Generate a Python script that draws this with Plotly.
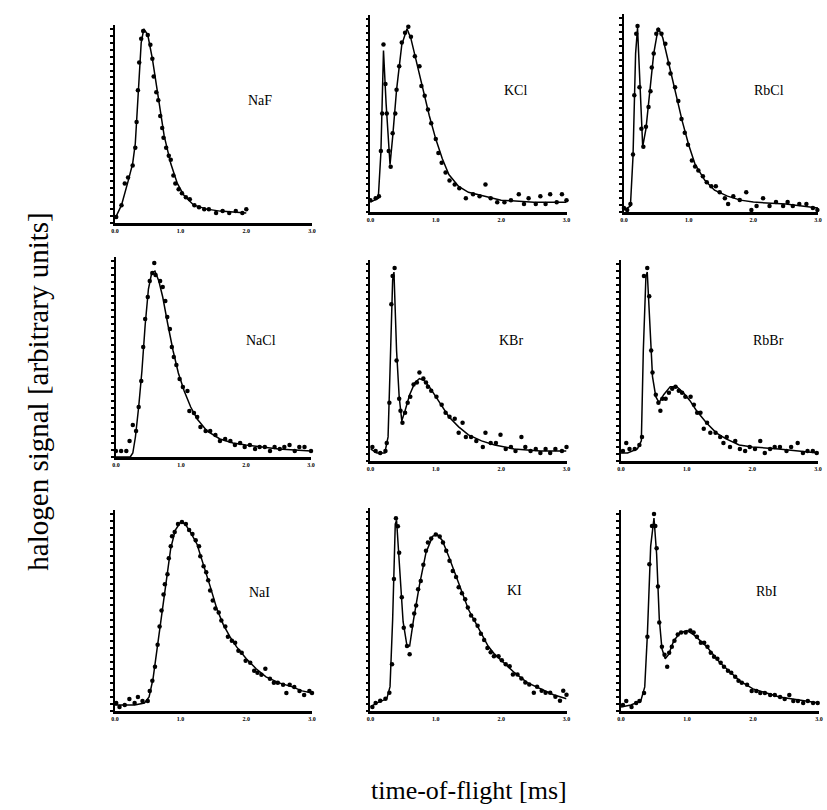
import plotly.graph_objects as go

# ---------------- data (time in ms, signal normalised to axis height) ----------------
naf_t = [0.02,0.10,0.15,0.20,0.27,0.31,0.33,0.35,0.37,0.40,0.43,0.50,0.54,0.57,0.59,0.63,0.66,0.69,0.72,0.74,0.78,0.82,0.85,0.89,0.92,0.97,1.02,1.08,1.14,1.21,1.28,1.36,1.43,1.54,1.64,1.74,1.84,1.94,2.00]
naf_y = [0.03,0.09,0.20,0.23,0.29,0.38,0.51,0.67,0.81,0.93,0.97,0.95,0.90,0.83,0.74,0.66,0.62,0.54,0.48,0.43,0.38,0.34,0.32,0.24,0.20,0.17,0.15,0.13,0.12,0.09,0.08,0.07,0.07,0.05,0.06,0.05,0.06,0.05,0.07]
naf_fit_t = [0.00,0.10,0.20,0.27,0.31,0.35,0.40,0.44,0.50,0.57,0.65,0.75,0.85,0.95,1.05,1.20,1.40,1.60,2.00]
naf_fit_y = [0.02,0.09,0.21,0.30,0.40,0.65,0.91,0.98,0.95,0.83,0.65,0.44,0.30,0.20,0.14,0.09,0.07,0.06,0.05]

kcl_t = [0.00,0.08,0.13,0.16,0.18,0.20,0.23,0.25,0.28,0.31,0.34,0.38,0.40,0.44,0.48,0.53,0.58,0.62,0.68,0.75,0.78,0.83,0.88,0.93,1.00,1.04,1.09,1.15,1.21,1.29,1.36,1.46,1.57,1.67,1.76,1.84,1.94,2.05,2.15,2.27,2.35,2.42,2.53,2.60,2.68,2.75,2.85,2.93,3.00]
kcl_y = [0.06,0.07,0.08,0.31,0.50,0.85,0.65,0.50,0.31,0.23,0.40,0.50,0.62,0.74,0.86,0.91,0.94,0.89,0.79,0.74,0.64,0.59,0.52,0.45,0.37,0.30,0.25,0.20,0.16,0.14,0.12,0.07,0.09,0.08,0.14,0.07,0.05,0.05,0.06,0.09,0.04,0.07,0.04,0.08,0.04,0.09,0.05,0.09,0.06]
kcl_fit_t = [0.00,0.12,0.16,0.20,0.24,0.30,0.34,0.40,0.48,0.56,0.62,0.70,0.80,0.90,1.00,1.10,1.20,1.35,1.50,1.75,2.00,2.50,3.00]
kcl_fit_y = [0.05,0.07,0.30,0.82,0.55,0.24,0.38,0.62,0.85,0.93,0.88,0.77,0.62,0.49,0.37,0.27,0.19,0.13,0.10,0.08,0.06,0.05,0.05]

rbcl_t = [0.00,0.05,0.10,0.14,0.16,0.19,0.21,0.24,0.27,0.30,0.34,0.38,0.41,0.43,0.46,0.50,0.53,0.58,0.64,0.69,0.72,0.79,0.84,0.89,0.94,0.99,1.05,1.10,1.15,1.22,1.28,1.35,1.42,1.48,1.56,1.61,1.69,1.79,1.89,1.97,2.05,2.15,2.25,2.35,2.46,2.53,2.61,2.71,2.82,2.92,2.99]
rbcl_y = [0.02,0.01,0.04,0.29,0.59,0.90,0.94,0.63,0.42,0.33,0.43,0.53,0.61,0.73,0.80,0.90,0.92,0.90,0.85,0.75,0.70,0.63,0.56,0.47,0.40,0.34,0.26,0.23,0.21,0.18,0.15,0.13,0.13,0.10,0.07,0.04,0.08,0.06,0.10,0.01,0.03,0.07,0.03,0.05,0.03,0.05,0.03,0.04,0.04,0.02,0.01]
rbcl_fit_t = [0.00,0.10,0.14,0.18,0.21,0.25,0.29,0.34,0.40,0.46,0.53,0.60,0.70,0.80,0.90,1.00,1.10,1.25,1.40,1.60,1.80,2.00,2.50,3.00]
rbcl_fit_y = [0.01,0.03,0.28,0.80,0.93,0.58,0.33,0.42,0.60,0.80,0.93,0.88,0.74,0.60,0.46,0.34,0.24,0.16,0.11,0.08,0.06,0.05,0.04,0.02]

nacl_t = [0.00,0.08,0.16,0.21,0.26,0.31,0.35,0.39,0.42,0.45,0.49,0.52,0.56,0.59,0.61,0.68,0.72,0.76,0.79,0.83,0.86,0.89,0.93,0.98,1.03,1.10,1.13,1.20,1.25,1.30,1.38,1.45,1.53,1.60,1.68,1.76,1.83,1.91,1.98,2.06,2.14,2.21,2.29,2.37,2.44,2.52,2.59,2.67,2.75,2.82,2.90,3.00]
nacl_y = [0.03,0.03,0.03,0.08,0.16,0.13,0.25,0.38,0.55,0.69,0.80,0.88,0.92,0.97,0.91,0.88,0.85,0.78,0.70,0.64,0.55,0.50,0.46,0.39,0.35,0.33,0.23,0.22,0.20,0.15,0.13,0.13,0.11,0.08,0.09,0.08,0.06,0.07,0.05,0.06,0.04,0.05,0.05,0.03,0.05,0.04,0.05,0.06,0.03,0.05,0.05,0.03]
nacl_fit_t = [0.00,0.22,0.26,0.30,0.35,0.40,0.45,0.50,0.55,0.60,0.66,0.72,0.80,0.88,0.96,1.05,1.15,1.25,1.40,1.60,1.80,2.00,2.50,3.00]
nacl_fit_y = [0.00,0.00,0.02,0.10,0.25,0.43,0.66,0.84,0.92,0.93,0.88,0.80,0.66,0.53,0.42,0.33,0.25,0.19,0.13,0.09,0.07,0.06,0.04,0.03]

kbr_t = [0.03,0.08,0.15,0.23,0.25,0.29,0.32,0.34,0.37,0.40,0.44,0.46,0.49,0.53,0.57,0.61,0.66,0.71,0.75,0.81,0.85,0.88,0.93,1.01,1.09,1.15,1.21,1.29,1.35,1.41,1.46,1.54,1.62,1.72,1.76,1.84,1.92,1.99,2.07,2.15,2.22,2.31,2.37,2.45,2.53,2.60,2.68,2.75,2.83,2.93,3.00]
kbr_y = [0.07,0.05,0.04,0.05,0.09,0.29,0.78,0.92,0.96,0.50,0.31,0.25,0.19,0.24,0.29,0.32,0.38,0.39,0.44,0.41,0.39,0.37,0.35,0.32,0.28,0.24,0.22,0.21,0.14,0.19,0.12,0.12,0.10,0.07,0.14,0.09,0.09,0.13,0.06,0.07,0.05,0.12,0.07,0.05,0.06,0.04,0.06,0.04,0.06,0.05,0.07]
kbr_fit_t = [0.00,0.10,0.22,0.27,0.30,0.34,0.36,0.40,0.44,0.48,0.53,0.60,0.68,0.75,0.82,0.90,1.00,1.10,1.20,1.35,1.50,1.70,1.90,2.20,2.60,3.00]
kbr_fit_y = [0.06,0.04,0.04,0.12,0.45,0.90,0.94,0.55,0.32,0.20,0.25,0.33,0.39,0.41,0.40,0.37,0.32,0.27,0.22,0.17,0.13,0.10,0.08,0.06,0.05,0.05]

rbbr_t = [0.03,0.08,0.13,0.21,0.28,0.32,0.35,0.40,0.43,0.46,0.48,0.53,0.57,0.60,0.63,0.68,0.73,0.78,0.83,0.88,0.93,0.98,1.06,1.11,1.16,1.21,1.26,1.31,1.36,1.44,1.51,1.56,1.61,1.66,1.74,1.81,1.89,1.96,2.04,2.12,2.19,2.27,2.34,2.42,2.52,2.59,2.69,2.77,2.84,2.92,2.98]
rbbr_y = [0.05,0.09,0.06,0.06,0.08,0.12,0.92,0.96,0.82,0.55,0.44,0.33,0.29,0.25,0.31,0.31,0.34,0.36,0.37,0.35,0.34,0.32,0.32,0.28,0.24,0.24,0.16,0.19,0.14,0.14,0.12,0.09,0.12,0.07,0.10,0.06,0.05,0.07,0.06,0.10,0.04,0.06,0.07,0.07,0.05,0.07,0.09,0.04,0.05,0.05,0.04]
rbbr_fit_t = [0.00,0.10,0.25,0.31,0.34,0.38,0.40,0.44,0.48,0.53,0.58,0.65,0.75,0.85,0.95,1.05,1.15,1.30,1.45,1.60,1.80,2.00,2.40,3.00]
rbbr_fit_y = [0.04,0.04,0.06,0.10,0.55,0.92,0.94,0.68,0.42,0.32,0.29,0.33,0.37,0.37,0.34,0.30,0.25,0.19,0.14,0.11,0.08,0.07,0.06,0.04]

nai_t = [0.02,0.07,0.15,0.22,0.30,0.35,0.42,0.50,0.53,0.57,0.61,0.65,0.68,0.71,0.74,0.76,0.80,0.82,0.85,0.87,0.91,0.96,1.02,1.08,1.13,1.18,1.23,1.28,1.30,1.35,1.39,1.42,1.45,1.49,1.53,1.58,1.62,1.68,1.72,1.78,1.83,1.88,1.93,1.99,2.06,2.12,2.17,2.23,2.29,2.36,2.42,2.48,2.56,2.61,2.66,2.73,2.81,2.88,2.96,3.00]
nai_y = [0.04,0.02,0.03,0.06,0.04,0.07,0.05,0.05,0.10,0.15,0.22,0.33,0.42,0.50,0.58,0.63,0.68,0.76,0.82,0.87,0.89,0.93,0.94,0.93,0.90,0.88,0.85,0.82,0.77,0.72,0.69,0.65,0.60,0.55,0.51,0.49,0.45,0.42,0.37,0.35,0.34,0.30,0.29,0.25,0.24,0.20,0.19,0.18,0.21,0.16,0.14,0.14,0.13,0.09,0.13,0.12,0.10,0.08,0.10,0.09]
nai_fit_t = [0.00,0.15,0.30,0.45,0.52,0.58,0.65,0.72,0.78,0.85,0.92,1.00,1.07,1.15,1.25,1.35,1.45,1.55,1.65,1.75,1.85,2.00,2.15,2.30,2.50,2.70,2.85,3.00]
nai_fit_y = [0.03,0.03,0.03,0.04,0.07,0.16,0.33,0.52,0.66,0.81,0.90,0.94,0.93,0.89,0.83,0.73,0.62,0.51,0.43,0.37,0.32,0.26,0.21,0.17,0.14,0.12,0.10,0.09]

ki_t = [0.03,0.08,0.15,0.23,0.29,0.33,0.36,0.39,0.42,0.44,0.48,0.51,0.56,0.60,0.63,0.67,0.70,0.73,0.77,0.81,0.85,0.88,0.93,1.00,1.06,1.11,1.16,1.21,1.26,1.31,1.35,1.40,1.45,1.49,1.54,1.59,1.64,1.69,1.74,1.79,1.84,1.89,1.96,2.01,2.07,2.13,2.18,2.25,2.31,2.37,2.43,2.50,2.55,2.62,2.68,2.75,2.83,2.90,2.95,3.00]
ki_y = [0.02,0.04,0.05,0.06,0.09,0.23,0.65,0.95,0.91,0.78,0.56,0.41,0.32,0.28,0.42,0.48,0.52,0.60,0.64,0.72,0.79,0.83,0.85,0.87,0.86,0.83,0.79,0.74,0.69,0.66,0.61,0.58,0.55,0.51,0.47,0.45,0.42,0.38,0.35,0.31,0.29,0.27,0.27,0.25,0.23,0.22,0.18,0.18,0.16,0.14,0.13,0.09,0.12,0.10,0.09,0.09,0.07,0.05,0.10,0.08]
ki_fit_t = [0.00,0.10,0.25,0.30,0.34,0.38,0.40,0.44,0.50,0.56,0.60,0.66,0.75,0.85,0.95,1.02,1.10,1.20,1.30,1.40,1.50,1.60,1.70,1.80,1.90,2.00,2.20,2.40,2.60,2.80,3.00]
ki_fit_y = [0.02,0.04,0.06,0.12,0.45,0.92,0.94,0.76,0.44,0.32,0.32,0.45,0.62,0.78,0.86,0.87,0.84,0.76,0.67,0.58,0.50,0.44,0.38,0.32,0.28,0.25,0.19,0.14,0.11,0.08,0.06]

rbi_t = [0.03,0.08,0.16,0.23,0.28,0.35,0.40,0.43,0.47,0.50,0.52,0.54,0.56,0.58,0.62,0.66,0.70,0.73,0.77,0.81,0.86,0.91,0.98,1.05,1.10,1.15,1.21,1.26,1.31,1.36,1.41,1.46,1.51,1.56,1.62,1.67,1.73,1.78,1.83,1.91,1.98,2.05,2.11,2.18,2.26,2.33,2.41,2.48,2.55,2.61,2.68,2.76,2.83,2.91,2.98]
rbi_y = [0.03,0.05,0.02,0.04,0.05,0.09,0.37,0.73,0.92,0.98,0.92,0.81,0.62,0.44,0.32,0.28,0.22,0.29,0.32,0.35,0.38,0.39,0.39,0.40,0.39,0.37,0.34,0.34,0.32,0.29,0.27,0.26,0.24,0.22,0.20,0.19,0.17,0.15,0.14,0.13,0.10,0.10,0.09,0.09,0.08,0.08,0.07,0.06,0.08,0.05,0.05,0.04,0.05,0.04,0.04]
rbi_fit_t = [0.00,0.15,0.30,0.36,0.40,0.45,0.50,0.54,0.58,0.62,0.67,0.72,0.80,0.90,1.00,1.10,1.20,1.30,1.40,1.50,1.60,1.70,1.80,2.00,2.20,2.40,2.60,2.80,3.00]
rbi_fit_y = [0.02,0.03,0.05,0.12,0.38,0.82,0.96,0.78,0.46,0.31,0.26,0.28,0.35,0.39,0.40,0.38,0.35,0.32,0.28,0.24,0.21,0.18,0.15,0.11,0.09,0.07,0.06,0.05,0.04]

salts = ["NaF", "KCl", "RbCl", "NaCl", "KBr", "RbBr", "NaI", "KI", "RbI"]
points = [(naf_t, naf_y), (kcl_t, kcl_y), (rbcl_t, rbcl_y),
          (nacl_t, nacl_y), (kbr_t, kbr_y), (rbbr_t, rbbr_y),
          (nai_t, nai_y), (ki_t, ki_y), (rbi_t, rbi_y)]
fits = [(naf_fit_t, naf_fit_y), (kcl_fit_t, kcl_fit_y), (rbcl_fit_t, rbcl_fit_y),
        (nacl_fit_t, nacl_fit_y), (kbr_fit_t, kbr_fit_y), (rbbr_fit_t, rbbr_fit_y),
        (nai_fit_t, nai_fit_y), (ki_fit_t, ki_fit_y), (rbi_fit_t, rbi_fit_y)]
x_tick_vals = [0, 1, 2, 3]
x_tick_text = ["0.0", "1.0", "2.0", "3.0"]

# ---------------- layout geometry (pixels) ----------------
W, H = 827, 810
# (left, right, top, bottom) of each panel's axes in pixels
boxes = [(112, 311, 25, 223), (370, 568, 15, 212), (626, 822, 14, 212),
         (113, 310, 257, 457), (370, 568, 260, 461), (623, 822, 260, 461),
         (112, 311, 510, 711), (370, 568, 508, 711), (623, 823, 510, 711)]
label_pos = [(258, 100), (516, 90), (772, 90),
             (260, 340), (512, 340), (772, 340),
             (258, 592), (515, 590), (770, 591)]

FONT = "Liberation Serif, Times New Roman, serif"
fig = go.Figure()
layout = dict(
    width=W, height=H, margin=dict(l=0, r=0, t=0, b=0),
    paper_bgcolor="white", plot_bgcolor="white", showlegend=False,
    font=dict(family=FONT, color="black"),
)
annotations = []
for i, name in enumerate(salts):
    n = "" if i == 0 else str(i + 1)
    xa, ya = "x" + n, "y" + n
    l, r, t, b = boxes[i]
    fit_t, fit_y = fits[i]
    pt_t, pt_y = points[i]
    fig.add_trace(go.Scatter(x=fit_t, y=fit_y, mode="lines", xaxis=xa, yaxis=ya,
                             line=dict(color="black", width=1.5), cliponaxis=False,
                             hoverinfo="skip"))
    fig.add_trace(go.Scatter(x=pt_t, y=pt_y, mode="markers", xaxis=xa, yaxis=ya,
                             marker=dict(color="black", size=4.5), cliponaxis=False,
                             name=name))
    layout["xaxis" + n] = dict(
        domain=[l / W, r / W], anchor=ya, range=[0, 3],
        showgrid=False, zeroline=False, showline=True, linecolor="black", linewidth=3,
        tickmode="array", tickvals=x_tick_vals,
        ticktext=["<b>" + s + "</b>" for s in x_tick_text],
        ticks="", tickfont=dict(size=6, family=FONT, color="black"),
    )
    layout["yaxis" + n] = dict(
        domain=[1 - b / H, 1 - t / H], anchor=xa, range=[0, 1],
        showgrid=False, zeroline=False, showline=True, linecolor="black", linewidth=1.5,
        tickmode="linear", tick0=0, dtick=0.035, ticks="outside", ticklen=3,
        tickwidth=1.5, tickcolor="black", showticklabels=False,
    )
    lx, ly = label_pos[i]
    annotations.append(dict(x=lx / W, y=1 - ly / H, xref="paper", yref="paper",
                            xanchor="center", yanchor="middle",
                            text=name, showarrow=False,
                            font=dict(size=14, family=FONT, color="black")))

annotations.append(dict(x=470 / W, y=1 - 790 / H, xref="paper", yref="paper",
                        xanchor="center", yanchor="middle",
                        text="time-of-flight [ms]", showarrow=False,
                        font=dict(size=26, family=FONT, color="black")))
annotations.append(dict(x=34 / W, y=1 - 392 / H, xref="paper", yref="paper",
                        xanchor="center", yanchor="middle",
                        text="halogen signal [arbitrary units]", showarrow=False,
                        textangle=-90,
                        font=dict(size=29, family=FONT, color="black")))
layout["annotations"] = annotations
fig.update_layout(**layout)
fig.write_html("out.html")
